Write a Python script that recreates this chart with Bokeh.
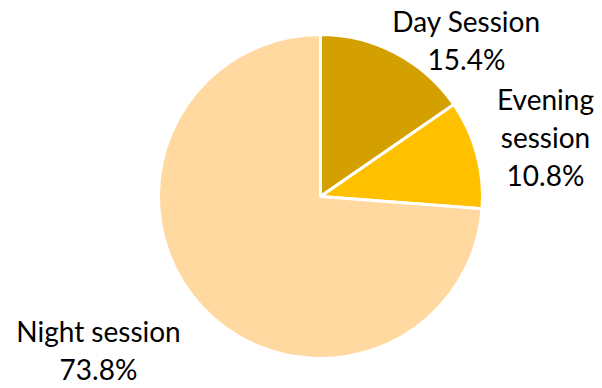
import numpy as np
from bokeh.plotting import figure
from bokeh.models import ColumnDataSource, Range1d
from bokeh.core.properties import value
from bokeh.embed import file_html
from bokeh.resources import INLINE

# ---- data ----
categories = ["Day Session", "Evening session", "Night session"]
label_names = [["Day Session"], ["Evening", "session"], ["Night session"]]
shares = [15.4, 10.8, 73.8]
colors = ["#D4A000", "#FFC000", "#FFD9A0"]

W, H = 602, 388
p = figure(width=W, height=H, output_backend="svg", toolbar_location=None,
           x_range=Range1d(0, W), y_range=Range1d(0, H), min_border=0)
p.axis.visible = False
p.grid.visible = False
p.outline_line_color = None
p.background_fill_color = "white"
p.border_fill_color = "white"

cx, cy, r = 320, H - 196, 162
frac = np.array(shares) / sum(shares)
cum = np.concatenate([[0], np.cumsum(frac)])
start = np.pi / 2 - cum[:-1] * 2 * np.pi
end = np.pi / 2 - cum[1:] * 2 * np.pi
src = ColumnDataSource(dict(start=start, end=end, color=colors, cat=categories))
p.wedge(x=cx, y=cy, radius=r, start_angle="start", end_angle="end",
        direction="clock", fill_color="color", line_color="white", line_width=3,
        source=src)

# label anchors (pixel positions: center x, first baseline y)
anchors = [(466, 20), (545, 98), (98, 330)]
line_gap = 38
xs, ys, ts = [], [], []
for names, s, (ax, ay) in zip(label_names, shares, anchors):
    lines = names + [f"{s:.1f}%"]
    for i, t in enumerate(lines):
        xs.append(ax)
        ys.append(H - (ay + i * line_gap))
        ts.append(t)
p.text(x=xs, y=ys, text=ts, text_align="center", text_baseline="alphabetic",
       text_font=value("Lato"), text_font_size="28px", text_color="#000000")

open("out.html", "w").write(file_html(p, INLINE))
